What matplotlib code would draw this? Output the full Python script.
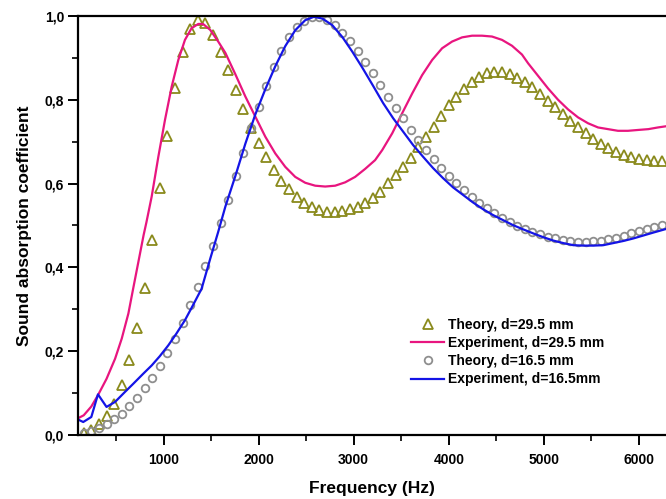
import numpy as np
import matplotlib
matplotlib.use('Agg')
import matplotlib.pyplot as plt
from matplotlib.ticker import MultipleLocator, FuncFormatter

plt.rcParams['font.family'] = ['Liberation Sans', 'DejaVu Sans']
plt.rcParams['font.weight'] = 'bold'

# theory points share one frequency grid (80 Hz step)
freq_theory = np.arange(160, 6241, 80)

theory_295 = [
    0.004, 0.012, 0.027, 0.045, 0.075, 0.119, 0.180, 0.255, 0.352, 0.465,
    0.589, 0.714, 0.827, 0.913, 0.968, 0.990, 0.984, 0.955, 0.915, 0.870,
    0.823, 0.777, 0.733, 0.696, 0.664, 0.632, 0.607, 0.586, 0.567, 0.554,
    0.543, 0.537, 0.533, 0.533, 0.535, 0.539, 0.545, 0.554, 0.565, 0.581,
    0.601, 0.621, 0.640, 0.662, 0.688, 0.712, 0.736, 0.761, 0.788, 0.807,
    0.826, 0.843, 0.855, 0.863, 0.867, 0.867, 0.861, 0.851, 0.842, 0.830,
    0.814, 0.798, 0.782, 0.765, 0.749, 0.734, 0.720, 0.706, 0.694, 0.684,
    0.675, 0.668, 0.663, 0.659, 0.656, 0.655, 0.655,
]

theory_165 = [
    0.005, 0.009, 0.017, 0.027, 0.037, 0.051, 0.069, 0.088, 0.111, 0.136,
    0.164, 0.196, 0.230, 0.268, 0.310, 0.353, 0.403, 0.452, 0.505, 0.561,
    0.617, 0.672, 0.732, 0.782, 0.833, 0.879, 0.916, 0.949, 0.973, 0.989,
    0.997, 0.997, 0.990, 0.978, 0.959, 0.940, 0.916, 0.891, 0.864, 0.835,
    0.807, 0.781, 0.756, 0.728, 0.704, 0.680, 0.658, 0.638, 0.619, 0.601,
    0.585, 0.569, 0.554, 0.541, 0.529, 0.519, 0.509, 0.500, 0.492, 0.485,
    0.479, 0.473, 0.469, 0.465, 0.463, 0.461, 0.461, 0.462, 0.464, 0.467,
    0.471, 0.476, 0.481, 0.487, 0.492, 0.497, 0.502,
]

freq_exp_295 = [
    100, 160, 240, 310, 400, 490, 560, 630, 680, 735, 790, 820, 875, 945,
    1015, 1085, 1155, 1225, 1295, 1365, 1415, 1490, 1575, 1650, 1755, 1860,
    1965, 2070, 2175, 2280, 2385, 2490, 2595, 2700, 2805, 2910, 3015, 3120,
    3225, 3300, 3405, 3510, 3615, 3720, 3825, 3930, 4035, 4140, 4245, 4350,
    4455, 4560, 4665, 4770, 4835, 4940, 5045, 5150, 5255, 5360, 5465, 5570,
    5675, 5780, 5885, 5990, 6100, 6200, 6290,
]
exp_295 = [
    0.040, 0.047, 0.068, 0.095, 0.134, 0.182, 0.230, 0.290, 0.349, 0.413,
    0.477, 0.508, 0.569, 0.664, 0.752, 0.831, 0.895, 0.943, 0.971, 0.981,
    0.981, 0.967, 0.939, 0.912, 0.861, 0.808, 0.760, 0.712, 0.672, 0.640,
    0.616, 0.602, 0.595, 0.593, 0.595, 0.603, 0.616, 0.635, 0.656, 0.680,
    0.720, 0.768, 0.815, 0.859, 0.895, 0.923, 0.939, 0.949, 0.953, 0.953,
    0.951, 0.943, 0.929, 0.908, 0.887, 0.857, 0.827, 0.800, 0.777, 0.758,
    0.744, 0.734, 0.730, 0.726, 0.726, 0.728, 0.730, 0.734, 0.737,
]

freq_exp_165 = [
    100, 155, 240, 310, 400, 490, 595, 680, 785, 875, 960, 1050, 1135, 1225,
    1310, 1400, 1490, 1575, 1650, 1755, 1860, 1965, 2070, 2175, 2280, 2385,
    2490, 2580, 2670, 2775, 2880, 2985, 3090, 3205, 3310, 3415, 3520, 3625,
    3730, 3835, 3940, 4045, 4150, 4255, 4360, 4465, 4570, 4675, 4780, 4890,
    4995, 5100, 5205, 5310, 5415, 5520, 5625, 5730, 5835, 5940, 6045, 6150,
    6290,
]
exp_165 = [
    0.037, 0.031, 0.043, 0.097, 0.067, 0.079, 0.103, 0.122, 0.146, 0.166,
    0.188, 0.214, 0.242, 0.274, 0.310, 0.349, 0.420, 0.485, 0.545, 0.618,
    0.695, 0.765, 0.825, 0.880, 0.928, 0.966, 0.990, 0.998, 0.994, 0.978,
    0.950, 0.915, 0.877, 0.833, 0.792, 0.756, 0.724, 0.692, 0.664, 0.637,
    0.613, 0.591, 0.573, 0.555, 0.539, 0.525, 0.513, 0.501, 0.491, 0.481,
    0.472, 0.464, 0.458, 0.453, 0.452, 0.452, 0.453, 0.458, 0.463, 0.469,
    0.476, 0.483, 0.492,
]

fig = plt.figure(figsize=(6.66, 4.99), dpi=100)
ax = fig.add_axes([78 / 666, 64 / 499, 588 / 666, 419 / 499])

ax.plot(freq_theory, theory_295, linestyle='none', marker='^', markersize=6.5,
        markerfacecolor='none', markeredgecolor='#8a8a1c', markeredgewidth=1.3,
        label='Theory, d=29.5 mm')
ax.plot(freq_exp_295, exp_295, color='#e8157f', linewidth=1.6,
        label='Experiment, d=29.5 mm')
ax.plot(freq_theory, theory_165, linestyle='none', marker='o', markersize=5.5,
        markerfacecolor='none', markeredgecolor='#8e8e8e', markeredgewidth=1.3,
        label='Theory, d=16.5 mm')
ax.plot(freq_exp_165, exp_165, color='#1414e6', linewidth=1.6,
        label='Experiment, d=16.5mm')

ax.set_xlim(100, 6285)
ax.set_ylim(0, 1.0)
ax.xaxis.set_major_locator(MultipleLocator(1000))
ax.xaxis.set_minor_locator(MultipleLocator(500))
ax.yaxis.set_major_locator(MultipleLocator(0.2))
ax.yaxis.set_minor_locator(MultipleLocator(0.1))
ax.yaxis.set_major_formatter(FuncFormatter(lambda v, p: f'{v:.1f}'.replace('.', ',')))

ax.spines['right'].set_visible(False)
for s in ['left', 'bottom', 'top']:
    ax.spines[s].set_linewidth(1.6)
ax.tick_params(which='major', direction='out', length=7, width=1.4, labelsize=10)
ax.tick_params(which='minor', direction='out', length=4, width=1.2)
ax.tick_params(axis='x', which='major', pad=6)
ax.tick_params(axis='y', which='major', pad=3)
ax.tick_params(top=False, right=False, which='both')

ax.set_xlabel('Frequency (Hz)', fontsize=12.5, fontweight='bold', labelpad=10)
ax.set_ylabel('Sound absorption coefficient', fontsize=12.5, fontweight='bold', labelpad=9)

leg = ax.legend(loc='upper left', bbox_to_anchor=(411 / 666, 1 - 318 / 499),
                bbox_transform=fig.transFigure, frameon=False, fontsize=10,
                handlelength=2.4, handletextpad=0.25, labelspacing=0.3,
                borderpad=0, borderaxespad=0, numpoints=1)

fig.savefig('out.png', dpi=100)
